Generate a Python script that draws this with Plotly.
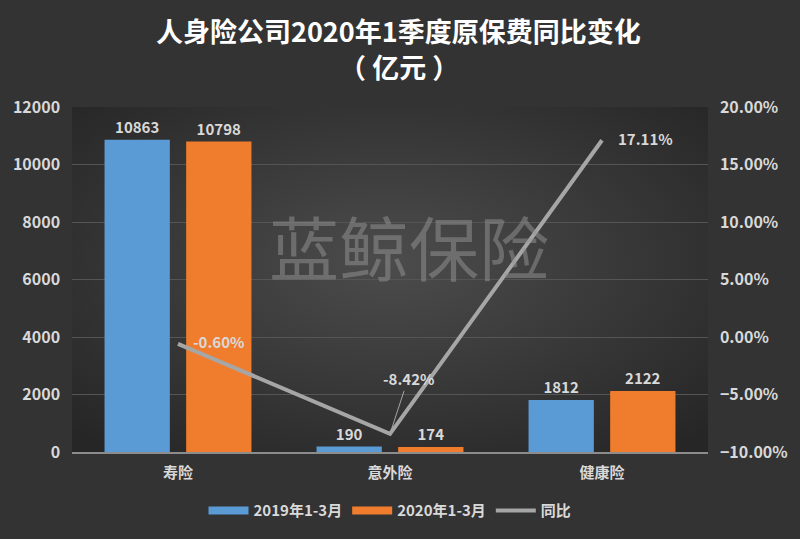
import plotly.graph_objects as go
import base64

categories = ["寿险", "意外险", "健康险"]
v2019 = [10863, 190, 1812]
v2020 = [10798, 174, 2122]
yoy = [-0.0060, -0.0842, 0.1711]
yoy_labels = ["-0.60%", "-8.42%", "17.11%"]
title_lines = ["人身险公司2020年1季度原保费同比变化", "（ 亿元 ）"]

FONT = "Noto Sans CJK SC"
TXT = "#d9d9d9"
BLUE = "#5b9bd5"
ORANGE = "#f07d2e"
GREY = "#a6a6a6"

svg = ('<svg xmlns="http://www.w3.org/2000/svg" width="800" height="539">'
       '<defs><radialGradient id="g" cx="50%" cy="45%" r="70%">'
       '<stop offset="0%" stop-color="#4c4c4c"/><stop offset="100%" stop-color="#262626"/>'
       '</radialGradient></defs><rect width="800" height="539" fill="url(#g)"/></svg>')
bg_uri = "data:image/svg+xml;base64," + base64.b64encode(svg.encode()).decode()

lblfont = dict(color=TXT, size=15, family=FONT, weight="bold")

fig = go.Figure()
fig.add_trace(go.Bar(
    x=categories, y=v2019, name="2019年1-3月", showlegend=False,
    marker=dict(color=BLUE, line=dict(width=0)),
    text=[str(v) for v in v2019], textposition="outside", textfont=lblfont,
    cliponaxis=False,
))
fig.add_trace(go.Bar(
    x=categories, y=v2020, name="2020年1-3月", showlegend=False,
    marker=dict(color=ORANGE, line=dict(width=0)),
    text=[str(v) for v in v2020], textposition="outside", textfont=lblfont,
    cliponaxis=False,
))
fig.add_trace(go.Scatter(
    x=categories, y=yoy, name="同比", yaxis="y2", mode="lines",
    line=dict(color=GREY, width=4), showlegend=False,
))
# legend entries (line-shaped swatches like the reference)
for nm, col, w in [("2019年1-3月", BLUE, 8), ("2020年1-3月", ORANGE, 8), ("同比", GREY, 4)]:
    fig.add_trace(go.Scatter(x=[None], y=[None], name=nm, mode="lines",
                             line=dict(color=col, width=w), showlegend=True))

annotations = [
    dict(x=0, y=yoy[0], xref="x", yref="y2", text=yoy_labels[0], showarrow=False,
         xshift=40, yshift=2, font=lblfont),
    dict(x=1, y=yoy[1], xref="x", yref="y2", text=yoy_labels[1], showarrow=True,
         ax=18, ay=-55, arrowhead=0, arrowwidth=1, arrowcolor=GREY, font=lblfont),
    dict(x=2, y=yoy[2], xref="x", yref="y2", text=yoy_labels[2], showarrow=False,
         xshift=43, yshift=2, font=lblfont),
    dict(x=0.53, y=0.60, xref="paper", yref="paper", text="蓝鲸保险", showarrow=False,
         font=dict(color="rgba(150,150,150,0.5)", size=70, family=FONT)),
]

H = 539
t, b = 107, 84
ph = H - t - b
xc = (400 - 72) / (800 - 72 - 90)
for txt, py in zip(title_lines, [30, 66]):
    annotations.append(dict(
        x=xc, xref="paper", y=(H - b - py) / ph, yref="paper",
        xanchor="center", yanchor="middle", text=txt, showarrow=False,
        font=dict(color="white", size=27, family=FONT, weight="bold")))

fig.update_layout(
    width=800, height=539,
    paper_bgcolor="#333333", plot_bgcolor="rgba(0,0,0,0)",
    images=[dict(source=bg_uri, xref="paper", yref="paper", x=0, y=1, sizex=1, sizey=1,
                 xanchor="left", yanchor="top", sizing="stretch", layer="below")],
    margin=dict(l=72, r=90, t=t, b=b),
    barmode="group", bargap=0.23, bargroupgap=0.2,
    font=dict(family=FONT, color=TXT, size=14),
    xaxis=dict(showgrid=False, showline=True, linecolor="#8c8c8c", linewidth=2,
               tickfont=dict(color=TXT, size=15, family=FONT, weight="bold"),
               ticks="outside", ticklen=6, tickcolor="rgba(0,0,0,0)"),
    yaxis=dict(range=[0, 12000], dtick=2000, tickformat="d", gridcolor="#555555", gridwidth=1,
               zeroline=False, showline=False,
               tickfont=dict(color=TXT, size=16, family=FONT, weight="bold"),
               ticksuffix="   "),
    yaxis2=dict(range=[-0.10, 0.20], dtick=0.05, tickformat=".2%", overlaying="y", side="right",
                showgrid=False, zeroline=False, showline=False,
                tickfont=dict(color=TXT, size=16, family=FONT, weight="bold"),
                tickprefix="   "),
    legend=dict(orientation="h", x=0.5, xanchor="center", y=-0.17, yanchor="middle",
                font=dict(color=TXT, size=15, family=FONT, weight="bold"),
                bgcolor="rgba(0,0,0,0)", itemwidth=40),
    annotations=annotations,
)

fig.write_html("out.html")
